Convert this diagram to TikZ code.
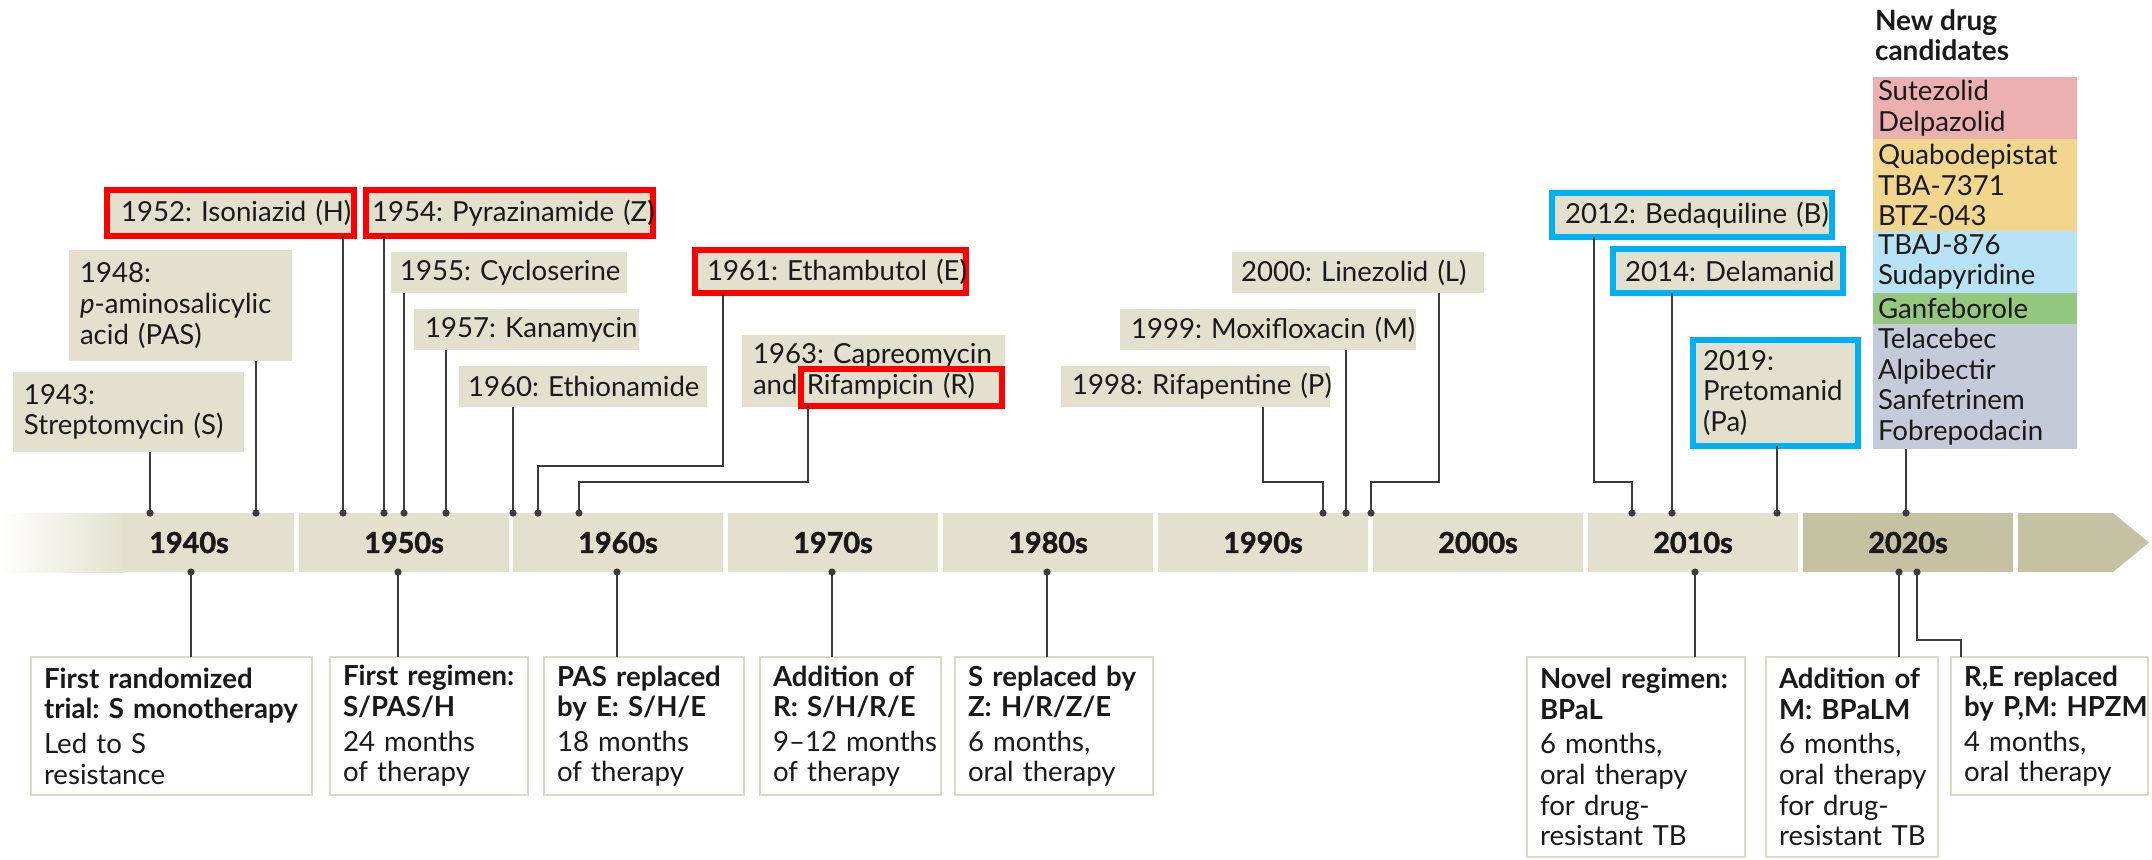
\documentclass[tikz,border=0pt]{standalone}
\usepackage{fontspec}
\setmainfont{Lato}
\newfontfamily\heavyfont{Lato}[BoldFeatures={FakeBold=1.6}]
\frenchspacing
\definecolor{beige}{RGB}{227,225,206}
\definecolor{darkband}{RGB}{197,194,163}
\definecolor{tbred}{RGB}{255,0,0}
\definecolor{tbblue}{RGB}{0,176,240}
\definecolor{pinkc}{RGB}{237,176,176}
\definecolor{yellowc}{RGB}{242,214,142}
\definecolor{bluec}{RGB}{184,227,247}
\definecolor{greenc}{RGB}{147,200,126}
\definecolor{greyc}{RGB}{197,202,216}
\definecolor{linec}{RGB}{60,60,60}
\definecolor{botline}{RGB}{220,217,196}
\definecolor{txtc}{RGB}{25,25,25}
\newcommand{\tfont}{\fontsize{13.8pt}{15.3pt}\selectfont\frenchspacing}
\newcommand{\decfont}{\fontsize{14.4pt}{16pt}\selectfont\heavyfont\bfseries}
\begin{document}
\begin{tikzpicture}[x=0.5pt,y=-0.5pt,
  every node/.style={inner sep=0pt, outer sep=0pt, font=\tfont, text=txtc},
  box/.style={fill=beige, anchor=north west, align=left},
  redf/.style={draw=tbred, line width=3pt},
  bluef/.style={draw=tbblue, line width=3pt},
  cand/.style={anchor=north west, align=left, text width=97pt, inner xsep=2.5pt},
  bot/.style={draw=botline, line width=0.8pt, fill=white, anchor=north west, align=left, inner xsep=6.5pt},
  cell/.style={fill=beige, anchor=north west, minimum height=29.5pt, minimum width=105pt, font=\decfont},
  conn/.style={draw=linec, line width=1pt},
  dotst/.style={fill=linec}]
\useasboundingbox (0,0) rectangle (2152,859);

% ---------- timeline band ----------
\shade[left color=white, right color=beige] (0,513) rectangle (125,572);
\fill[beige] (124,513) rectangle (294,572);
\node (d1940) [anchor=north west, minimum width=105pt, minimum height=29.5pt, font=\decfont] at (84,513) {1940s};
\node (d1950) [cell] at (299,513) {1950s};
\node (d1960) [cell] at (513,513) {1960s};
\node (d1970) [cell] at (728,513) {1970s};
\node (d1980) [cell] at (943,513) {1980s};
\node (d1990) [cell] at (1158,513) {1990s};
\node (d2000) [cell] at (1373,513) {2000s};
\node (d2010) [cell] at (1588,513) {2010s};
\node (d2020) [cell, fill=darkband] at (1803,513) {2020s};
\fill[darkband] (2018,513) -- (2113,513) -- (2149,542.5) -- (2113,572) -- (2018,572) -- cycle;

% ---------- drug boxes above ----------
\node (b1943) [box, text width=104.5pt, inner xsep=5.5pt, minimum height=40pt] at (13,372) {\mbox{1943:}\\\mbox{Streptomycin (S)}};
\node (b1948) [box, text width=100.5pt, inner xsep=5.5pt, minimum height=55.5pt] at (69,250) {\mbox{1948:}\\\mbox{\textit{p}-aminosalicylic}\\\mbox{acid (PAS)}};
\node (b1952) [box, redf, text width=109.5pt, inner xsep=7pt, minimum height=23pt] at (107,190) {\mbox{1952: Isoniazid (H)}};
\node (b1954) [box, redf, text width=137.5pt, inner xsep=3pt, minimum height=23pt] at (366,190) {\mbox{1954: Pyrazinamide (Z)}};
\node (b1955) [box, text width=109pt, inner xsep=4.5pt, minimum height=20.5pt] at (391,252) {\mbox{1955: Cycloserine}};
\node (b1957) [box, text width=101.5pt, inner xsep=5.5pt, minimum height=20.5pt] at (414,309) {\mbox{1957: Kanamycin}};
\node (b1960) [box, text width=115pt, inner xsep=4.5pt, minimum height=20.5pt] at (459,366) {\mbox{1960: Ethionamide}};
\node (b1961) [box, redf, text width=123.5pt, inner xsep=6pt, minimum height=21.5pt] at (695,250) {\mbox{1961: Ethambutol (E)}};
\node (b1963) [box, text width=120.5pt, inner xsep=5.5pt, minimum height=36pt] at (742,335) {\mbox{1963: Capreomycin}\\\mbox{and Rifampicin (R)}};
\node (rif) [redf, anchor=north west, minimum width=100.5pt, minimum height=18.5pt] at (801,369) {};
\node (b1998) [box, text width=123.5pt, inner xsep=5.5pt, minimum height=20.5pt] at (1061,366) {\mbox{1998: Rifapentine (P)}};
\node (b1999) [box, text width=137pt, inner xsep=5.5pt, minimum height=20.5pt] at (1120,309) {\mbox{1999: Moxifloxacin (M)}};
\node (b2000) [box, text width=117pt, inner xsep=4.5pt, minimum height=20.5pt] at (1232,252) {\mbox{2000: Linezolid (L)}};
\node (b2012) [box, bluef, text width=127pt, inner xsep=6.5pt, minimum height=22pt] at (1552,193) {\mbox{2012: Bedaquiline (B)}};
\node (b2014) [box, bluef, text width=103pt, inner xsep=6pt, minimum height=22pt] at (1613,249) {\mbox{2014: Delamanid}};
\node (b2019) [box, bluef, text width=72.5pt, inner xsep=5pt, minimum height=53pt] at (1693,340) {\mbox{2019:}\\\mbox{Pretomanid}\\\mbox{(Pa)}};

% ---------- new drug candidates ----------
\node (title) [anchor=north west, align=left, font=\fontsize{14pt}{15pt}\selectfont\bfseries] at (1875,10) {New drug\\candidates};
\node (cpink) [cand, fill=pinkc, minimum height=31pt] at (1873,77) {\mbox{Sutezolid}\\\mbox{Delpazolid}};
\node (cyel) [cand, fill=yellowc, minimum height=46pt] at (cpink.south west) {\mbox{Quabodepistat}\\\mbox{TBA-7371}\\\mbox{BTZ-043}};
\node (cblue) [cand, fill=bluec, minimum height=31pt] at (cyel.south west) {\mbox{TBAJ-876}\\\mbox{Sudapyridine}};
\node (cgreen) [cand, fill=greenc, minimum height=15.5pt] at (cblue.south west) {\mbox{Ganfeborole}};
\node (cgrey) [cand, fill=greyc, minimum height=62.5pt] at (cgreen.south west) {\mbox{Telacebec}\\\mbox{Alpibectir}\\\mbox{Sanfetrinem}\\\mbox{Fobrepodacin}};

% ---------- regimen boxes below ----------
\node (r1) [bot, text width=127.5pt, minimum height=69pt] at (31,657) {\mbox{\textbf{First randomized}}\\\mbox{\textbf{trial: S monotherapy}}\\[2pt]\mbox{Led to S}\\\mbox{resistance}};
\node (r2) [bot, text width=86pt, minimum height=69pt] at (330,657) {\mbox{\textbf{First regimen:}}\\\mbox{\textbf{S/PAS/H}}\\[2pt]\mbox{24 months}\\\mbox{of therapy}};
\node (r3) [bot, text width=87pt, minimum height=69pt] at (544,657) {\mbox{\textbf{PAS replaced}}\\\mbox{\textbf{by E: S/H/E}}\\[2pt]\mbox{18 months}\\\mbox{of therapy}};
\node (r4) [bot, text width=77.5pt, minimum height=69pt] at (760,657) {\mbox{\textbf{Addition of}}\\\mbox{\textbf{R: S/H/R/E}}\\[2pt]\mbox{9–12 months}\\\mbox{of therapy}};
\node (r5) [bot, text width=86pt, minimum height=69pt] at (955,657) {\mbox{\textbf{S replaced by}}\\\mbox{\textbf{Z: H/R/Z/E}}\\[2pt]\mbox{6 months,}\\\mbox{oral therapy}};
\node (r6) [bot, text width=96pt, minimum height=100pt] at (1527,657) {\mbox{\textbf{Novel regimen:}}\\\mbox{\textbf{BPaL}}\\[2pt]\mbox{6 months,}\\\mbox{oral therapy}\\\mbox{for drug-}\\\mbox{resistant TB}};
\node (r7) [bot, text width=73pt, minimum height=100pt] at (1766,657) {\mbox{\textbf{Addition of}}\\\mbox{\textbf{M: BPaLM}}\\[2pt]\mbox{6 months,}\\\mbox{oral therapy}\\\mbox{for drug-}\\\mbox{resistant TB}};
\node (r8) [bot, text width=85.5pt, minimum height=69pt] at (1951,657) {\mbox{\textbf{R,E replaced}}\\\mbox{\textbf{by P,M: HPZM}}\\[2pt]\mbox{4 months,}\\\mbox{oral therapy}};

% ---------- dot coordinates ----------
\coordinate (t1943) at (150,513);
\coordinate (t1948) at (256,513);
\coordinate (t1952) at (343,513);
\coordinate (t1954) at (384,513);
\coordinate (t1955) at (404,513);
\coordinate (t1957) at (446,513);
\coordinate (t1960) at (513,513);
\coordinate (t1961) at (538,513);
\coordinate (t1963) at (579,513);
\coordinate (t1998) at (1323,513);
\coordinate (t1999) at (1346,513);
\coordinate (t2000) at (1371,513);
\coordinate (t2012) at (1632,513);
\coordinate (t2014) at (1672,513);
\coordinate (t2019) at (1777,513);
\coordinate (tnew) at (1906,513);
\coordinate (u1940) at (191,572);
\coordinate (u1950) at (398,572);
\coordinate (u1960) at (617,572);
\coordinate (u1970) at (832,572);
\coordinate (u1980) at (1047,572);
\coordinate (u2010) at (1695,572);
\coordinate (u2020a) at (1899,572);
\coordinate (u2020b) at (1917,572);
\coordinate (k1961) at (723,466);
\coordinate (kR) at (808,482);
\coordinate (k1998) at (1263,482);
\coordinate (k2000) at (1439,482);
\coordinate (k2012) at (1594,482);
\coordinate (kRE) at (1961,640);

% ---------- connectors ----------
\draw[conn] (b1943.south -| t1943) -- (t1943);
\draw[conn] (b1948.south -| t1948) -- (t1948);
\draw[conn] (b1952.south -| t1952) -- (t1952);
\draw[conn] (b1954.south -| t1954) -- (t1954);
\draw[conn] (b1955.south -| t1955) -- (t1955);
\draw[conn] (b1957.south -| t1957) -- (t1957);
\draw[conn] (b1960.south -| t1960) -- (t1960);
\draw[conn] (b1961.south -| k1961) -- (k1961) -| (t1961);
\draw[conn] (rif.south -| kR) -- (kR) -| (t1963);
\draw[conn] (b1998.south -| k1998) -- (k1998) -| (t1998);
\draw[conn] (b1999.south -| t1999) -- (t1999);
\draw[conn] (b2000.south -| k2000) -- (k2000) -| (t2000);
\draw[conn] (b2012.south -| k2012) -- (k2012) -| (t2012);
\draw[conn] (b2014.south -| t2014) -- (t2014);
\draw[conn] (b2019.south -| t2019) -- (t2019);
\draw[conn] (cgrey.south -| tnew) -- (tnew);
\draw[conn] (u1940) -- (u1940 |- r1.north);
\draw[conn] (u1950) -- (u1950 |- r2.north);
\draw[conn] (u1960) -- (u1960 |- r3.north);
\draw[conn] (u1970) -- (u1970 |- r4.north);
\draw[conn] (u1980) -- (u1980 |- r5.north);
\draw[conn] (u2010) -- (u2010 |- r6.north);
\draw[conn] (u2020a) -- (u2020a |- r7.north);
\draw[conn] (u2020b) |- (kRE) -- (kRE |- r8.north);

% ---------- dots ----------
\foreach \c in {t1943,t1948,t1952,t1954,t1955,t1957,t1960,t1961,t1963,t1998,t1999,t2000,t2012,t2014,t2019,tnew,u1940,u1950,u1960,u1970,u1980,u2010,u2020a,u2020b}
  \fill[dotst] (\c) circle[radius=1.8pt];
\end{tikzpicture}
\end{document}
